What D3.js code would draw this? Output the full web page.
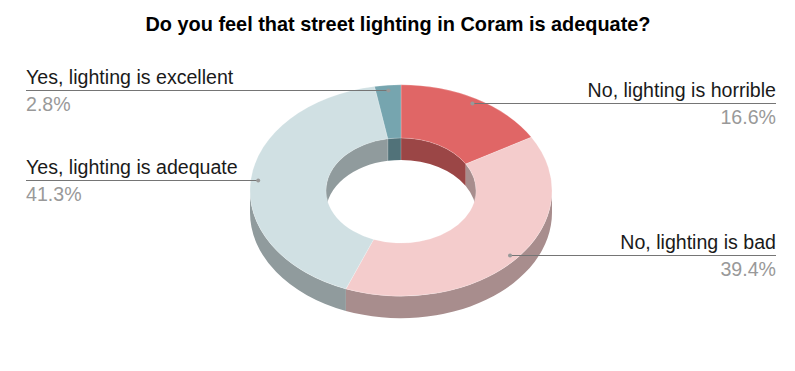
<!DOCTYPE html>
<html>
<head>
<meta charset="utf-8">
<script src="https://cdn.jsdelivr.net/npm/d3@7"></script>
<style>
  html, body { margin: 0; padding: 0; background: #fff; }
  text { font-family: "Liberation Sans", Arial, sans-serif; }
</style>
</head>
<body>
<div id="chart"></div>
<script>
const title = 'Do you feel that street lighting in Coram is adequate?';
const categories = ['No, lighting is horrible', 'No, lighting is bad', 'Yes, lighting is adequate', 'Yes, lighting is excellent'];
const shares = [16.6, 39.4, 41.3, 2.8];
const colors = ['#e06666', '#f4cccc', '#d0e0e3', '#76a5af'];

const width = 795;
const height = 371;
const cx = 401;
const cy = 190.5;
const outerR = 151;
const innerR = 75;
const tilt = 0.7;
const depth = 22 / tilt;   // walls are drawn inside the squashed group
const dotR = 143.5;
const marginX = 26;
const shade = 0.69;

const dark = c => {
  const r = d3.rgb(c);
  return d3.rgb(r.r * shade, r.g * shade, r.b * shade).formatHex();
};

const svg = d3.select('#chart').append('svg')
  .attr('width', width)
  .attr('height', height)
  .style('display', 'block');

svg.append('text')
  .attr('x', 398)
  .attr('y', 31)
  .attr('text-anchor', 'middle')
  .attr('font-size', '19.9px')
  .attr('font-weight', 'bold')
  .attr('fill', '#000')
  .text(title);

// pie angles, clockwise from the top
const slices = d3.pie().sort(null)(shares);
const donut = svg.append('g')
  .attr('transform', 'translate(' + cx + ',' + cy + ') scale(1,' + tilt + ')');

// one band of wall between two angles of a circle
const wall = (r, a0, a1) => {
  const p = d3.path();
  const s = a0 - Math.PI / 2;
  const e = a1 - Math.PI / 2;
  p.arc(0, 0, r, s, e);
  p.arc(0, depth, r, e, s, true);
  p.closePath();
  return p.toString();
};
const clipWall = (slice, from, to) => {
  const a0 = Math.max(slice.startAngle, from);
  const a1 = Math.min(slice.endAngle, to);
  return a1 > a0 ? [a0, a1] : null;
};
const addWall = (r, slice, from, to) => {
  const range = clipWall(slice, from, to);
  if (!range) return;
  donut.append('path')
    .attr('d', wall(r, range[0], range[1]))
    .attr('fill', dark(colors[slice.index]));
};

// inner wall shows on the back half, outer wall on the front half
slices.forEach(s => {
  addWall(innerR, s, 0, Math.PI / 2);
  addWall(innerR, s, Math.PI * 1.5, Math.PI * 2);
  addWall(outerR, s, Math.PI / 2, Math.PI * 1.5);
});

// thin light seams on the inner wall
[slices[0].startAngle, slices[3].startAngle].forEach(a => {
  donut.append('line')
    .attr('x1', innerR * Math.sin(a))
    .attr('x2', innerR * Math.sin(a))
    .attr('y1', -innerR * Math.cos(a))
    .attr('y2', -innerR * Math.cos(a) + depth)
    .attr('stroke', '#fff')
    .attr('stroke-opacity', 0.35)
    .attr('stroke-width', 0.8);
});

const arc = d3.arc().innerRadius(innerR).outerRadius(outerR);
donut.selectAll('.slice')
  .data(slices)
  .enter()
  .append('path')
  .attr('class', 'slice')
  .attr('d', arc)
  .attr('fill', (d, i) => colors[i])
  .attr('stroke', '#fff')
  .attr('stroke-opacity', 0.5)
  .attr('stroke-width', 0.5);

// leader lines and labels
slices.forEach((s, i) => {
  const mid = (s.startAngle + s.endAngle) / 2;
  const px = cx + dotR * Math.sin(mid);
  const py = Math.floor(cy - dotR * tilt * Math.cos(mid)) + 0.5;
  const right = mid < Math.PI;
  const edge = right ? width - 19 : marginX;
  const anchor = right ? 'end' : 'start';

  svg.append('line')
    .attr('x1', px).attr('x2', edge)
    .attr('y1', py).attr('y2', py)
    .attr('stroke', '#757575')
    .attr('stroke-width', 1);
  svg.append('circle')
    .attr('cx', px).attr('cy', py)
    .attr('r', 2)
    .attr('fill', '#999');
  svg.append('text')
    .attr('x', edge).attr('y', py - 6.5)
    .attr('text-anchor', anchor)
    .attr('font-size', '19.6px')
    .attr('fill', '#1a1a1a')
    .text(categories[i]);
  svg.append('text')
    .attr('x', edge).attr('y', py + 20.5)
    .attr('text-anchor', anchor)
    .attr('font-size', '19.6px')
    .attr('fill', '#999')
    .text(shares[i].toFixed(1) + '%');
});
</script>
</body>
</html>
